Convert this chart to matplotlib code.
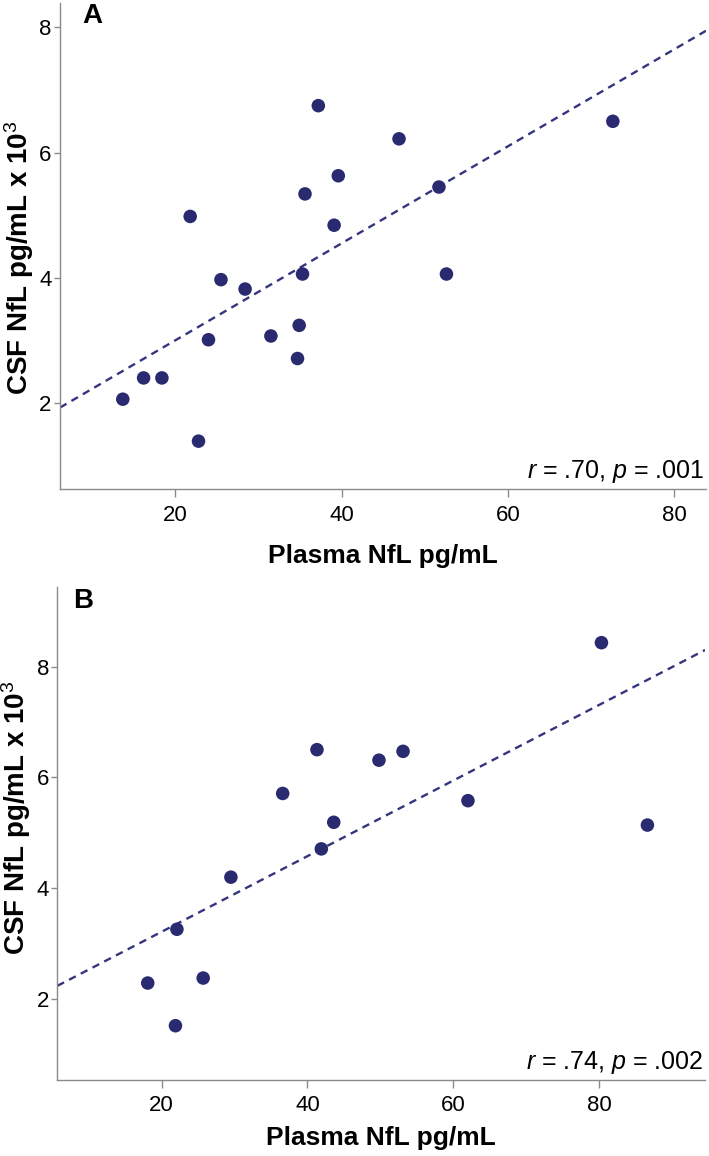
# plot.py
# CSF NfL vs plasma NfL, two scatter panels with regression lines

import matplotlib
matplotlib.use("Agg")
import matplotlib.pyplot as plt
import numpy as np

plt.rcParams['font.family'] = ['Liberation Sans', 'DejaVu Sans']
plt.rcParams['mathtext.fontset'] = 'custom'
plt.rcParams['mathtext.rm'] = 'Liberation Sans'
plt.rcParams['mathtext.it'] = 'Liberation Sans:italic'
plt.rcParams['mathtext.bf'] = 'Liberation Sans:bold'

# panel A data (plasma pg/mL, CSF pg/mL x 10^3)
plasma_a = [13.7, 16.2, 18.4, 22.8, 21.8, 24.0, 25.5, 28.4, 31.5, 34.9,
            34.7, 35.3, 35.6, 37.2, 39.1, 39.6, 46.9, 51.7, 52.6, 72.6]
csf_a = [2.06, 2.40, 2.40, 1.39, 4.98, 3.01, 3.97, 3.82, 3.07, 3.24,
         2.71, 4.06, 5.34, 6.75, 4.84, 5.63, 6.22, 5.45, 4.06, 6.50]

# panel B data
plasma_b = [18.1, 21.9, 22.1, 25.7, 29.5, 36.6, 41.3, 41.9, 43.6, 49.8,
            53.1, 62.0, 80.3, 86.6]
csf_b = [2.29, 1.52, 3.26, 2.38, 4.20, 5.71, 6.50, 4.71, 5.19, 6.31,
         6.47, 5.58, 8.43, 5.14]

stats_a = r'$\mathit{r}$ = .70, $\mathit{p}$ = .001'
stats_b = r'$\mathit{r}$ = .74, $\mathit{p}$ = .002'

xlabel = 'Plasma NfL pg/mL'
ylabel = r'CSF NfL pg/mL x 10$^{3}$'

dot_color = '#2a2a70'
line_color = '#35357f'
spine_color = '#8a8a8a'

fig = plt.figure(figsize=(7.09, 11.56), dpi=100)
ax_a = fig.add_axes([0.0846, 0.5767, 0.9112, 0.4207])
ax_b = fig.add_axes([0.0808, 0.0657, 0.9136, 0.4263])


def draw_panel(ax, x, y, xlim, ylim, letter, stats, letter_pos, ylab_y, xpad):
    x = np.array(x)
    y = np.array(y)
    ax.scatter(x, y, s=95, color=dot_color, edgecolors='none', zorder=3)

    # least squares fit over the full x range
    slope, intercept = np.polyfit(x, y, 1)
    xs = np.array(xlim)
    ax.plot(xs, intercept + slope * xs, linestyle=(0, (3.2, 2.4)),
            color=line_color, linewidth=1.7, zorder=2)

    ax.set_xlim(xlim)
    ax.set_ylim(ylim)
    ax.set_xticks([20, 40, 60, 80])
    ax.set_yticks([2, 4, 6, 8])

    for side in ['top', 'right']:
        ax.spines[side].set_visible(False)
    for side in ['left', 'bottom']:
        ax.spines[side].set_color(spine_color)
        ax.spines[side].set_linewidth(1.0)

    ax.tick_params(axis='x', direction='out', length=6, width=1,
                   color=spine_color, labelsize=16, pad=5)
    ax.tick_params(axis='y', direction='out', length=4, width=1,
                   color=spine_color, labelsize=16, pad=2)

    ax.set_xlabel(xlabel, fontsize=19, fontweight='bold', labelpad=xpad)
    ax.set_ylabel(ylabel, fontsize=20, fontweight='bold')
    ax.yaxis.set_label_coords(-0.037, ylab_y)

    ax.text(letter_pos[0], letter_pos[1], letter, transform=ax.transAxes,
            fontsize=20, fontweight='bold', va='baseline', ha='left')
    ax.text(0.998, 0.023, stats, transform=ax.transAxes, fontsize=18,
            ha='right', va='baseline')


draw_panel(ax_a, plasma_a, csf_a, (6.15, 83.8), (0.62, 8.39), 'A', stats_a,
           (0.034, 0.959), 0.476, 13)
draw_panel(ax_b, plasma_b, csf_b, (5.7, 94.5), (0.54, 9.43), 'B', stats_b,
           (0.024, 0.958), 0.533, 7)

plt.savefig('out.png', dpi=100)
